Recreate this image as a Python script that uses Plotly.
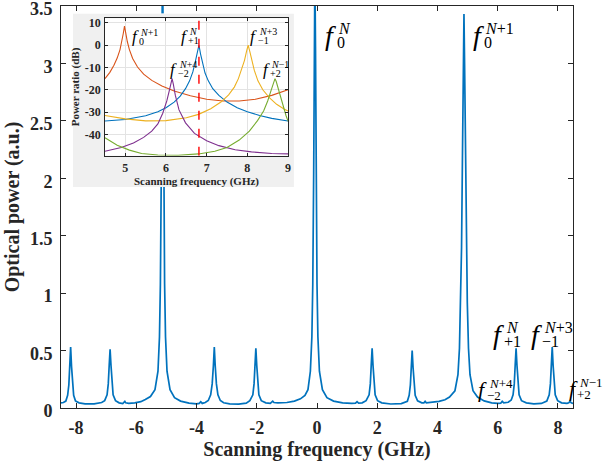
import plotly.graph_objects as go

# ---------------- data: main spectrum ----------------
freq_main = [
    -8.50, -8.42, -8.34, -8.28, -8.24, -8.21, -8.18, -8.15, -8.12, -8.08, -8.02, -7.90,
    -7.70, -7.40, -7.15, -7.05, -6.97, -6.93, -6.90, -6.87, -6.84, -6.81, -6.77, -6.69,
    -6.57, -6.45, -6.41, -6.38, -6.35, -6.25, -6.05, -5.85, -5.70, -5.53, -5.38, -5.28,
    -5.23, -5.20, -5.17, -5.15, -5.13, -5.11, -5.09, -5.06, -5.03, -4.98, -4.88, -4.73,
    -4.53, -4.25, -4.00, -3.91, -3.86, -3.81, -3.71, -3.61, -3.53, -3.48, -3.44, -3.41,
    -3.38, -3.34, -3.29, -3.21, -3.10, -2.90, -2.60, -2.35, -2.23, -2.13, -2.09, -2.06,
    -2.03, -2.00, -1.97, -1.93, -1.85, -1.70, -1.55, -1.50, -1.47, -1.43, -1.30, -1.00,
    -0.75, -0.55, -0.40, -0.30, -0.22, -0.17, -0.14, -0.11, -0.09, -0.07, -0.05, -0.03,
    0.00, 0.03, 0.08, 0.18, 0.33, 0.55, 0.85, 1.15, 1.28, 1.33, 1.38, 1.50,
    1.63, 1.73, 1.77, 1.80, 1.83, 1.86, 1.89, 1.93, 2.01, 2.15, 2.45, 2.80,
    3.00, 3.06, 3.10, 3.13, 3.16, 3.19, 3.22, 3.26, 3.34, 3.48, 3.55, 3.59,
    3.63, 3.80, 4.05, 4.25, 4.40, 4.58, 4.68, 4.73, 4.77, 4.80, 4.83, 4.86,
    4.88, 4.90, 4.93, 4.96, 4.99, 5.03, 5.08, 5.18, 5.33, 5.55, 5.80, 6.00,
    6.10, 6.15, 6.20, 6.35, 6.45, 6.51, 6.55, 6.58, 6.61, 6.64, 6.67, 6.71,
    6.79, 6.95, 7.20, 7.45, 7.63, 7.71, 7.75, 7.78, 7.81, 7.84, 7.87, 7.91,
    7.99, 8.12, 8.30, 8.36, 8.40, 8.44, 8.50,
]
power_main = [
    0.045, 0.048, 0.060, 0.110, 0.200, 0.360, 0.530, 0.360, 0.200, 0.110, 0.062, 0.045,
    0.036, 0.036, 0.048, 0.064, 0.115, 0.210, 0.370, 0.510, 0.370, 0.210, 0.115, 0.064,
    0.045, 0.038, 0.045, 0.058, 0.045, 0.040, 0.045, 0.055, 0.075, 0.100, 0.160, 0.320,
    0.620, 1.080, 2.050, 3.250, 3.950, 3.250, 2.050, 1.080, 0.620, 0.320, 0.160, 0.090,
    0.060, 0.042, 0.036, 0.040, 0.055, 0.040, 0.048, 0.065, 0.115, 0.210, 0.370, 0.530,
    0.370, 0.210, 0.115, 0.065, 0.046, 0.036, 0.034, 0.042, 0.064, 0.115, 0.210, 0.370,
    0.520, 0.370, 0.210, 0.115, 0.064, 0.045, 0.040, 0.048, 0.060, 0.048, 0.045, 0.048,
    0.060, 0.080, 0.110, 0.160, 0.320, 0.620, 1.080, 2.050, 3.150, 3.800, 3.150, 2.050,
    1.080, 0.620, 0.320, 0.160, 0.090, 0.060, 0.045, 0.040, 0.042, 0.055, 0.042, 0.045,
    0.064, 0.115, 0.210, 0.370, 0.520, 0.370, 0.210, 0.115, 0.064, 0.045, 0.035, 0.038,
    0.058, 0.110, 0.200, 0.350, 0.500, 0.350, 0.200, 0.110, 0.062, 0.045, 0.045, 0.058,
    0.045, 0.048, 0.058, 0.072, 0.095, 0.150, 0.290, 0.520, 0.920, 1.400, 2.200, 3.000,
    3.430, 3.000, 2.200, 1.400, 0.920, 0.520, 0.290, 0.150, 0.095, 0.062, 0.045, 0.040,
    0.042, 0.058, 0.045, 0.050, 0.070, 0.115, 0.210, 0.370, 0.520, 0.370, 0.210, 0.115,
    0.064, 0.045, 0.036, 0.040, 0.060, 0.115, 0.210, 0.370, 0.530, 0.370, 0.210, 0.115,
    0.064, 0.045, 0.040, 0.045, 0.058, 0.045, 0.040,
]

main_xticks = [-8, -6, -4, -2, 0, 2, 4, 6, 8]
main_xticktext = ["-8", "-6", "-4", "-2", "0", "2", "4", "6", "8"]
main_yticks = [0, 0.5, 1, 1.5, 2, 2.5, 3, 3.5]
main_yticktext = ["0", "0.5", "1", "1.5", "2", "2.5", "3", "3.5"]

# ---------------- data: inset (power ratio, dB) ----------------
f_orange = [4.50, 4.62, 4.72, 4.80, 4.87, 4.92, 4.95, 4.98, 5.01, 5.05, 5.10, 5.18,
            5.30, 5.45, 5.65, 5.90, 6.20, 6.60, 7.00, 7.40, 7.80, 8.20, 8.60, 9.00]
db_orange = [-15.0, -12.2, -9.0, -5.8, -2.0, 2.0, 5.2, 8.5, 5.2, 1.5, -2.0, -6.0,
             -9.8, -13.0, -15.8, -18.3, -20.5, -22.7, -24.2, -25.0, -25.0, -24.2, -22.5, -20.0]

f_blue = [4.50, 5.00, 5.50, 5.80, 6.00, 6.20, 6.35, 6.48, 6.58, 6.66, 6.72, 6.77, 6.81,
          6.85, 6.90, 6.96, 7.04, 7.15, 7.30, 7.50, 7.75, 8.00, 8.30, 8.60, 9.00]
db_blue = [-34.0, -33.3, -31.6, -29.8, -28.0, -25.5, -22.8, -19.5, -16.0, -12.0, -7.5, -3.5, 0.0,
           -4.0, -8.5, -12.5, -16.0, -19.5, -22.5, -25.5, -28.0, -29.8, -31.5, -32.8, -34.0]

f_yellow = [4.50, 5.00, 5.50, 6.00, 6.50, 6.80, 7.10, 7.35, 7.54, 7.68, 7.78, 7.87,
            7.93, 7.98, 8.02, 8.06, 8.11, 8.17, 8.26, 8.38, 8.54, 8.72, 8.90, 9.00]
db_yellow = [-31.5, -33.0, -33.9, -33.8, -32.5, -31.0, -28.5, -25.5, -22.3, -18.8, -15.0, -10.5,
             -6.8, -2.8, 0.0, -2.8, -7.0, -11.2, -16.0, -20.0, -23.5, -26.5, -28.6, -29.5]

f_purple = [4.50, 4.90, 5.20, 5.45, 5.65, 5.80, 5.92, 6.02, 6.08, 6.12, 6.15, 6.18,
            6.23, 6.32, 6.48, 6.70, 7.00, 7.30, 7.70, 8.10, 8.60, 9.00]
db_purple = [-47.5, -45.8, -43.8, -41.3, -38.5, -35.3, -30.5, -25.0, -20.5, -16.8, -15.0, -17.5,
             -22.5, -29.0, -34.8, -39.5, -42.8, -45.0, -46.8, -47.8, -48.5, -48.7]

f_green = [4.50, 4.80, 5.10, 5.40, 5.80, 6.30, 6.80, 7.20, 7.50, 7.80, 8.05, 8.25,
           8.40, 8.50, 8.58, 8.63, 8.66, 8.68, 8.71, 8.75, 8.80, 8.87, 8.95, 9.00]
db_green = [-41.5, -44.8, -47.0, -48.5, -49.2, -49.3, -48.7, -47.5, -45.8, -42.5, -38.5, -33.8,
            -29.5, -25.0, -20.5, -17.5, -15.8, -15.0, -16.3, -19.0, -22.5, -27.0, -31.5, -34.0]

inset_marker_f = 6.81
inset_xticks = [5, 6, 7, 8, 9]
inset_xticktext = ["5", "6", "7", "8", "9"]
inset_yticks = [-40, -30, -20, -10, 0, 10]
inset_yticktext = ["-40", "-30", "-20", "-10", "0", "10"]

# ---------------- styling ----------------
FONT = "Liberation Serif"
AX = "#262626"
BLUE = "#0072BD"
ORANGE = "#D95319"
YELLOW = "#EDB120"
PURPLE = "#7E2F8E"
GREEN = "#77AC30"
INSET_YRANGE = [-49.5, 12]

fig = go.Figure()

fig.add_trace(go.Scatter(x=freq_main, y=power_main, mode="lines",
                         line=dict(color=BLUE, width=1.7), xaxis="x", yaxis="y",
                         hoverinfo="skip", showlegend=False))

# grey background of the inset "figure" (its own hidden subplot)
fig.add_trace(go.Scatter(x=[0, 1, 1, 0, 0], y=[0, 0, 1, 1, 0], mode="lines", fill="toself",
                         fillcolor="#F0F0F0", line=dict(color="#F0F0F0", width=0),
                         xaxis="x2", yaxis="y2", hoverinfo="skip", showlegend=False))

for fx, db, col in [(f_orange, db_orange, ORANGE), (f_blue, db_blue, BLUE),
                    (f_yellow, db_yellow, YELLOW), (f_purple, db_purple, PURPLE),
                    (f_green, db_green, GREEN)]:
    fig.add_trace(go.Scatter(x=fx, y=db, mode="lines", line=dict(color=col, width=1.1),
                             xaxis="x3", yaxis="y3", hoverinfo="skip", showlegend=False))

fig.add_trace(go.Scatter(x=[inset_marker_f, inset_marker_f], y=INSET_YRANGE, mode="lines",
                         line=dict(color="#FF0000", width=1.4, dash="dash"),
                         xaxis="x3", yaxis="y3", hoverinfo="skip", showlegend=False))

annotations = []


def flabel(x, y, sub, sup, fsize, ssize, xref, yref, sup_dx, sup_dy, sub_dx, sub_dy):
    annotations.append(dict(x=x, y=y, xref=xref, yref=yref, text="<i>f</i>", showarrow=False,
                            xanchor="center", yanchor="middle",
                            font=dict(family=FONT, size=fsize, color="#000")))
    annotations.append(dict(x=x, y=y, xref=xref, yref=yref, text=sup, showarrow=False,
                            xanchor="left", yanchor="middle", xshift=sup_dx, yshift=sup_dy,
                            font=dict(family=FONT, size=ssize, color="#000")))
    annotations.append(dict(x=x, y=y, xref=xref, yref=yref, text=sub, showarrow=False,
                            xanchor="left", yanchor="middle", xshift=sub_dx, yshift=sub_dy,
                            font=dict(family=FONT, size=ssize, color="#000")))


# main-plot labels
flabel(0.45, 3.24, "0", "<i>N</i>", 28, 16, "x", "y", 5, 7, 4, -7)
flabel(5.35, 3.24, "0", "<i>N</i>+1", 28, 16, "x", "y", 5, 7, 4, -7)
flabel(6.03, 0.64, "+1", "<i>N</i>", 28, 16, "x", "y", 5, 7, 3, -7)
flabel(7.29, 0.64, "−1", "<i>N</i>+3", 28, 16, "x", "y", 5, 7, 3, -7)
flabel(5.51, 0.16, "−2", "<i>N</i>+4", 22, 13, "x", "y", 4, 6, 2, -6)
flabel(8.50, 0.17, "+2", "<i>N</i>−1", 22, 13, "x", "y", 4, 6, 2, -6)

# inset labels
flabel(5.25, 3.8, "0", "<i>N</i>+1", 17, 10, "x3", "y3", 3, 4.5, 2, -4.5)
flabel(6.45, 4.0, "+1", "<i>N</i>", 17, 10, "x3", "y3", 3, 4.5, 2, -4.5)
flabel(8.16, 4.0, "−1", "<i>N</i>+3", 17, 10, "x3", "y3", 3, 4.5, 2, -4.5)
flabel(6.19, -10.9, "−2", "<i>N</i>+4", 17, 10, "x3", "y3", 3, 4.5, 2, -4.5)
flabel(8.47, -10.9, "+2", "<i>N</i>−1", 17, 10, "x3", "y3", 3, 4.5, 2, -4.5)

main_axis = dict(showline=True, linecolor=AX, linewidth=1, mirror="ticks", ticks="inside",
                 ticklen=5, tickcolor=AX, showgrid=False, zeroline=False,
                 ticklabeloverflow="allow",
                 tickfont=dict(family=FONT, size=18, color=AX, weight="bold"))
inset_axis = dict(showline=True, linecolor=AX, linewidth=0.8, mirror="ticks", ticks="inside",
                  ticklen=3, tickcolor=AX, showgrid=True, gridcolor="#E3E3E3", gridwidth=0.8,
                  zeroline=False, ticklabeloverflow="allow",
                  tickfont=dict(family=FONT, size=12, color=AX, weight="bold"))

fig.update_layout(
    width=605, height=470,
    margin=dict(l=61, r=32, t=6, b=62, autoexpand=False),
    paper_bgcolor="white", plot_bgcolor="white",
    showlegend=False,
    xaxis=dict(main_axis, domain=[0, 1], range=[-8.5, 8.5], tickvals=main_xticks,
               ticktext=main_xticktext, anchor="y", ticklabelstandoff=3,
               title=dict(text="Scanning frequency (GHz)", standoff=4,
                          font=dict(family=FONT, size=20, color=AX, weight="bold"))),
    yaxis=dict(main_axis, domain=[0, 1], range=[0, 3.5], tickvals=main_yticks,
               ticktext=main_yticktext, anchor="x", ticklabelstandoff=4,
               ticklabelshift=3,
               title=dict(text="Optical power (a.u.)", standoff=4,
                          font=dict(family=FONT, size=20, color=AX, weight="bold"))),
    xaxis2=dict(domain=[0.0234, 0.455], range=[0, 1], visible=False, anchor="y2",
                fixedrange=True),
    yaxis2=dict(domain=[0.5498, 0.9814], range=[0, 1], visible=False, anchor="x2",
                fixedrange=True),
    xaxis3=dict(inset_axis, domain=[0.0859, 0.4434], range=[4.5, 9], tickvals=inset_xticks,
                ticktext=inset_xticktext, anchor="y3", ticklabelstandoff=1,
                title=dict(text="Scanning frequency (GHz)", standoff=2,
                           font=dict(family=FONT, size=11, color=AX, weight="bold"))),
    yaxis3=dict(inset_axis, domain=[0.6276, 0.9694], range=INSET_YRANGE, tickvals=inset_yticks,
                ticktext=inset_yticktext, anchor="x3", ticklabelstandoff=1,
                title=dict(text="Power ratio (dB)", standoff=2,
                           font=dict(family=FONT, size=11, color=AX, weight="bold"))),
    annotations=annotations,
)

fig.write_html("out.html", config={"displayModeBar": False},
               post_script="document.body.style.margin='0px';")
